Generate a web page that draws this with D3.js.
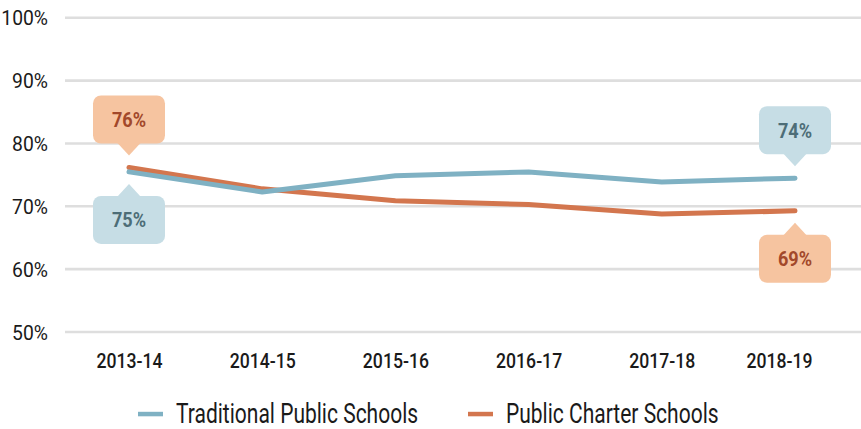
<!DOCTYPE html>
<html>
<head>
<meta charset="utf-8">
<script src="https://cdn.jsdelivr.net/npm/d3@7"></script>
<style>
  html, body { margin: 0; padding: 0; background: #fff; }
  svg { display: block; }
  text { font-family: "Roboto", "Liberation Sans", sans-serif; }
</style>
</head>
<body>
<svg id="chart" width="861" height="429"></svg>
<script>
// School years on the x axis
const years = ["2013-14", "2014-15", "2015-16", "2016-17", "2017-18", "2018-19"];
// Percent values per school year
const traditional = [75.4, 72.2, 74.8, 75.4, 73.8, 74.4];
const charter = [76.1, 72.7, 70.8, 70.2, 68.7, 69.2];
// Y axis ticks
const yTicks = [50, 60, 70, 80, 90, 100];
const seriesNames = ["Traditional Public Schools", "Public Charter Schools"];

const W = 861, H = 429;
const svg = d3.select("#chart");

const x = d3.scalePoint().domain(years).range([129, 795]);
const y = d3.scaleLinear().domain([50, 100]).range([331.5, 17.3]);

const palette = {
  traditional: { line: "#7fb1c3", fill: "#c6dde5", text: "#4d6d77" },
  charter: { line: "#d3764e", fill: "#f6c4a0", text: "#a2482a" }
};

// Narrow the glyphs horizontally to get a condensed face
function condense(sel, f) {
  sel.each(function () {
    const len = this.getComputedTextLength();
    d3.select(this)
      .attr("textLength", len * f)
      .attr("lengthAdjust", "spacingAndGlyphs");
  });
}

// Horizontal gridlines with percent labels
const yAxis = d3.axisLeft(y)
  .tickValues(yTicks)
  .tickSize(-(W - 65))
  .tickPadding(17)
  .tickFormat(d => d + "%");
const gy = svg.append("g").attr("transform", "translate(65,0)").call(yAxis);
gy.select(".domain").remove();
gy.selectAll(".tick line").attr("stroke", "#dedede").attr("stroke-width", 2.6);
gy.selectAll(".tick text")
  .attr("fill", "#1a1a1a")
  .attr("font-size", 21)
  .attr("dy", "0.36em")
  .call(condense, 0.92);

// Year labels
const xAxis = d3.axisBottom(x).tickSize(0).tickPadding(22);
const gx = svg.append("g").attr("transform", "translate(0,331.5)").call(xAxis);
gx.select(".domain").remove();
gx.selectAll(".tick text")
  .attr("fill", "#1a1a1a")
  .attr("font-size", 20.5)
  .attr("font-weight", 500)
  .attr("dx", (d, i) => i === years.length - 1 ? -16 : 0)
  .call(condense, 0.86);

// Lines
const line = d3.line().x((d, i) => x(years[i])).y(d => y(d));
const series = [
  { key: "charter", values: charter },
  { key: "traditional", values: traditional }
];
svg.append("g").selectAll("path")
  .data(series)
  .join("path")
  .attr("d", d => line(d.values))
  .attr("fill", "none")
  .attr("stroke", d => palette[d.key].line)
  .attr("stroke-width", 5)
  .attr("stroke-linecap", "round")
  .attr("stroke-linejoin", "round");

// Callouts on the first and last year: higher series above, lower below
const bw = 72, bh = 48, r = 8, gap = 12, ph = 12, pw = 12;
function callout(key, i, above) {
  const v = key === "traditional" ? traditional[i] : charter[i];
  const cx = x(years[i]);
  const py = y(v);
  const tipY = above ? py - gap : py + gap;
  const baseY = above ? tipY - ph : tipY + ph;
  const boxTop = above ? baseY - bh : baseY;
  const g = svg.append("g");
  g.append("rect")
    .attr("x", cx - bw / 2).attr("y", boxTop)
    .attr("width", bw).attr("height", bh)
    .attr("rx", r).attr("ry", r)
    .attr("fill", palette[key].fill);
  g.append("path")
    .attr("d", `M${cx - pw},${baseY + (above ? -1 : 1)} L${cx},${tipY} L${cx + pw},${baseY + (above ? -1 : 1)} Z`)
    .attr("fill", palette[key].fill);
  g.append("text")
    .attr("x", cx).attr("y", boxTop + bh / 2)
    .attr("dy", "0.36em")
    .attr("text-anchor", "middle")
    .attr("font-size", 21)
    .attr("font-weight", "bold")
    .attr("fill", palette[key].text)
    .text(Math.round(v) + "%")
    .call(condense, 0.86);
}
[0, years.length - 1].forEach(i => {
  const tUp = traditional[i] > charter[i];
  callout("traditional", i, tUp);
  callout("charter", i, !tUp);
});

// Legend
const legend = [
  { key: "traditional", name: seriesNames[0], x: 138 },
  { key: "charter", name: seriesNames[1], x: 468 }
];
const lg = svg.append("g").selectAll("g").data(legend).join("g")
  .attr("transform", d => `translate(${d.x},414)`);
lg.append("rect")
  .attr("x", 0).attr("y", -2.2).attr("width", 25).attr("height", 4.5)
  .attr("fill", d => palette[d.key].line);
lg.append("text")
  .attr("x", 38).attr("y", 8.5)
  .attr("font-size", 28)
  .attr("fill", "#1a1a1a")
  .text(d => d.name)
  .call(condense, 0.75);
</script>
</body>
</html>
